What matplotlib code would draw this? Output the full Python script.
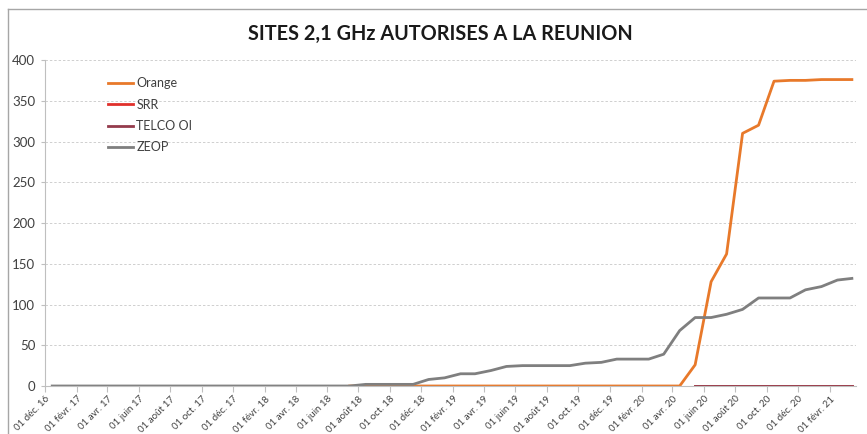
import numpy as np
import pandas as pd
import matplotlib
matplotlib.use('Agg')
import matplotlib.pyplot as plt
from matplotlib.lines import Line2D

plt.rcParams['font.family'] = ['Lato', 'DejaVu Sans']

# Monthly points (mid-month), Dec 2016 -> Mar 2021
dates = pd.date_range('2016-12-01', periods=52, freq='MS') + pd.Timedelta(days=14)

nan = np.nan
orange = [nan] * 19 + [0] * 22 + [26, 128, 162, 310, 320, 374, 375, 375, 376, 376, 376]
srr = [nan] * 41 + [0] * 11
telco = [nan] * 41 + [0] * 11
zeop = ([0] * 20 + [2, 2, 2, 2, 8,
        10, 15, 15, 19, 24, 25, 25, 25, 25, 28, 29, 33,
        33, 33, 39, 68, 84, 84, 88, 94, 108, 108, 108, 118,
        122, 130, 132])

series = [
    ('Orange', orange, '#E8792A'),
    ('SRR', srr, '#E0302B'),
    ('TELCO OI', telco, '#943B4C'),
    ('ZEOP', zeop, '#7F7F7F'),
]

mois = {12: 'déc.', 2: 'févr.', 4: 'avr.', 6: 'juin', 8: 'août', 10: 'oct.'}
tick_dates = pd.date_range('2016-12-01', '2021-02-01', freq='2MS')
tick_labels = [f"01 {mois[d.month]} {d.strftime('%y')}" for d in tick_dates]

fig = plt.figure(figsize=(8.67, 4.34), dpi=100)
ax = fig.add_axes([45 / 867, 48 / 434, 811 / 867, 326 / 434])

for name, vals, col in series:
    ax.plot(dates, vals, color=col, lw=2, label=name, solid_joinstyle='round')

ax.set_ylim(0, 400)
ax.set_yticks(range(0, 401, 50))
ax.set_xlim(pd.Timestamp('2016-12-01'), pd.Timestamp('2021-03-23'))
ax.set_xticks(tick_dates)
ax.set_xticklabels(tick_labels, rotation=45, ha='right', rotation_mode='anchor',
                   fontsize=7, color='#404040')
ax.tick_params(axis='x', length=4, color='#BFBFBF', pad=2)
ax.tick_params(axis='y', length=3, color='#BFBFBF', labelsize=9.5, labelcolor='#404040', pad=4)

ax.grid(axis='y', linestyle=(0, (2.5, 2)), color='#CFCFCF', lw=0.7)
ax.set_axisbelow(True)
for side in ['top', 'right']:
    ax.spines[side].set_visible(False)
ax.spines['left'].set_color('#BFBFBF')
ax.spines['bottom'].set_color('#BFBFBF')

leg = ax.legend(loc='upper left', bbox_to_anchor=(52 / 811, 1 - 6 / 326), frameon=False,
                fontsize=9, handlelength=2.0, handletextpad=0.25, labelspacing=0.75)
for t in leg.get_texts():
    t.set_color('#404040')

fig.text(440 / 867, 1 - 34 / 434, 'SITES 2,1 GHz AUTORISES A LA REUNION',
         ha='center', va='center', fontsize=14.3, fontweight='bold', color='#1a1a1a')

# chart area frame (top / left edges visible)
fig.add_artist(Line2D([8 / 867, 1], [1 - 9 / 434, 1 - 9 / 434], color='#A6A6A6', lw=1))
fig.add_artist(Line2D([8 / 867, 8 / 867], [0, 1 - 9 / 434], color='#A6A6A6', lw=1))

fig.savefig('out.png', dpi=100)
